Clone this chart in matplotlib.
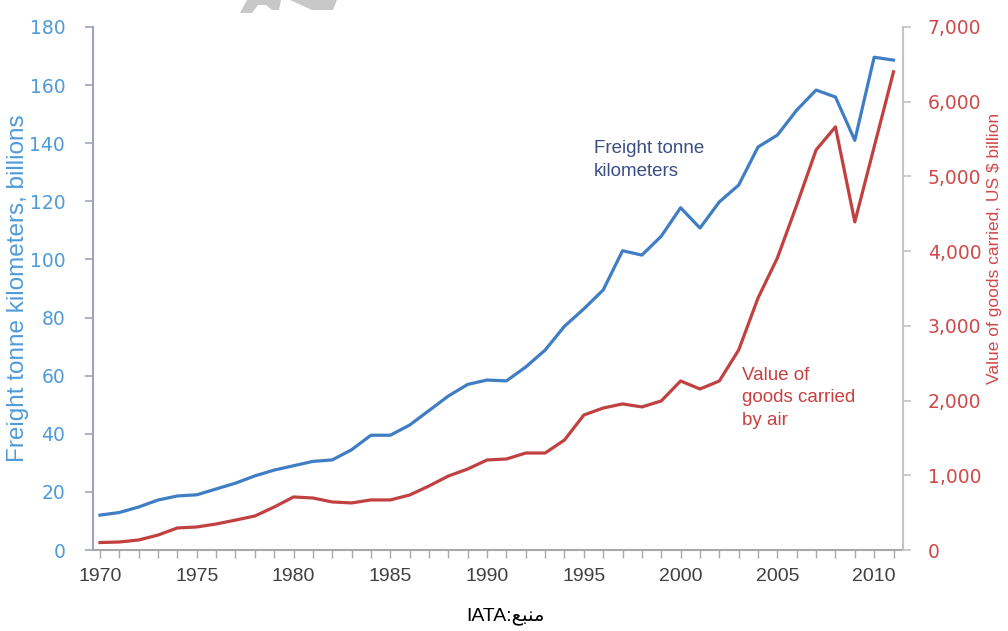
import matplotlib
matplotlib.use("Agg")
import matplotlib.pyplot as plt
from matplotlib.ticker import FuncFormatter, MultipleLocator
from matplotlib.patches import Polygon

years = list(range(1970, 2012))
freight_tkm = [12, 12.9, 14.8, 17.2, 18.6, 19, 21, 23, 25.5, 27.5, 29, 30.5, 31,
               34.5, 39.5, 39.5, 43, 48, 53, 57, 58.5, 58.2, 63, 68.8, 77, 83,
               89.5, 103, 101.5, 108, 117.8, 110.8, 119.8, 125.6, 138.7, 142.8,
               151.4, 158.3, 155.9, 141, 169.6, 168.6]
goods_value = [100, 107, 134, 200, 295, 308, 348, 400, 455, 575, 710, 696, 643,
               630, 670, 670, 736, 857, 990, 1084, 1205, 1218, 1298, 1298, 1472,
               1807, 1900, 1955, 1915, 1995, 2262, 2155, 2262, 2677, 3373, 3909,
               4618, 5355, 5663, 4391, 5395, 6400]
x_tick_labels = ["1970", "1975", "1980", "1985", "1990", "1995", "2000", "2005", "2010"]
left_label = "Freight tonne kilometers, billions"
right_label = "Value of goods carried, US $ billion"
blue_note = "Freight tonne\nkilometers"
red_note = "Value of\ngoods carried\nby air"
# Arabic "منبع" in visual (left-to-right) order using presentation forms
source_text = "IATA:" + "\uFECA\uFE92\uFEE8\uFEE3"

BLUE_LINE = "#3F7DC4"
RED_LINE = "#C0413F"
BLUE_TXT = "#4F9BD9"
RED_TXT = "#D0494A"

W, H = 1008, 631
fig = plt.figure(figsize=(W / 100, H / 100), dpi=100)
ax = fig.add_axes([93 / W, 1 - 550 / H, (903 - 93) / W, (550 - 27) / H])
ax2 = ax.twinx()

ax.plot(years, freight_tkm, color=BLUE_LINE, lw=2.3, solid_joinstyle="round", zorder=3)
ax2.plot(years, goods_value, color=RED_LINE, lw=2.3, solid_joinstyle="round", zorder=3)

ax.set_xlim(1969.64, 2011.49)
ax.set_ylim(0, 180)
ax2.set_ylim(0, 7000)
ax.yaxis.set_major_locator(MultipleLocator(20))
ax2.yaxis.set_major_locator(MultipleLocator(1000))
ax2.yaxis.set_major_formatter(FuncFormatter(lambda v, p: f"{int(v):,}"))

ax.set_xticks(range(1970, 2012, 5))
ax.set_xticklabels(x_tick_labels)
ax.set_xticks(years, minor=True)

for a in (ax, ax2):
    a.spines["top"].set_visible(False)
    a.patch.set_visible(False)
ax.spines["right"].set_visible(False)
ax2.spines["left"].set_visible(False)
ax2.spines["bottom"].set_visible(False)
ax.spines["left"].set_color("#9EA4C0")
ax.spines["left"].set_linewidth(1.5)
ax.spines["bottom"].set_color("#A8A8A8")
ax.spines["bottom"].set_linewidth(1.5)
ax2.spines["right"].set_color("#C4C4C4")
ax2.spines["right"].set_linewidth(1.5)

ax.tick_params(axis="x", which="both", direction="out", length=6, width=1,
               color="#A8A8A8", labelsize=14, labelcolor="#404040", pad=7)
for lab in ax.get_xticklabels():
    lab.set_family(["Liberation Sans"])
ax.tick_params(axis="y", direction="out", length=6, width=1.2, color="#9EA4C0",
               labelsize=13.5, labelcolor=BLUE_TXT, pad=14)
ax2.tick_params(axis="y", direction="out", length=6, width=1.2, color="#C4C4C4",
                labelsize=13.5, labelcolor=RED_TXT, pad=12)

fig.text(18 / W, 1 - 288 / H, left_label, rotation=90, ha="center", va="center",
         color=BLUE_TXT, fontsize=17.5, family=["Liberation Sans"])
fig.text(995 / W, 1 - 248 / H, right_label, rotation=90, ha="center", va="center",
         color=RED_TXT, fontsize=12.5, family=["Liberation Sans"])

fig.text(594 / W, 1 - 160 / H, blue_note, ha="left", va="center", color="#3A4E85",
         fontsize=13.5, family=["Liberation Sans"], linespacing=1.4)
fig.text(742 / W, 1 - 398 / H, red_note, ha="left", va="center", color="#C8403F",
         fontsize=13.5, family=["Liberation Sans"], linespacing=1.45)

fig.text(505 / W, 1 - 616 / H, source_text, ha="center", va="center", color="black",
         fontsize=14, family=["Liberation Sans", "DejaVu Sans"])

# grey watermark fragments at the top edge
wm1 = [(240, 13), (247, 0), (281, 0), (279, 10), (272, 10), (266, 5), (258, 5), (252, 13)]
wm2 = [(290, 0), (337, 0), (333, 10), (312, 10)]
for poly in (wm1, wm2):
    fig.patches.append(Polygon([(x / W, 1 - y / H) for x, y in poly], closed=True,
                               transform=fig.transFigure, facecolor="#C8C8C8",
                               edgecolor="none"))

fig.savefig("out.png", dpi=100)
